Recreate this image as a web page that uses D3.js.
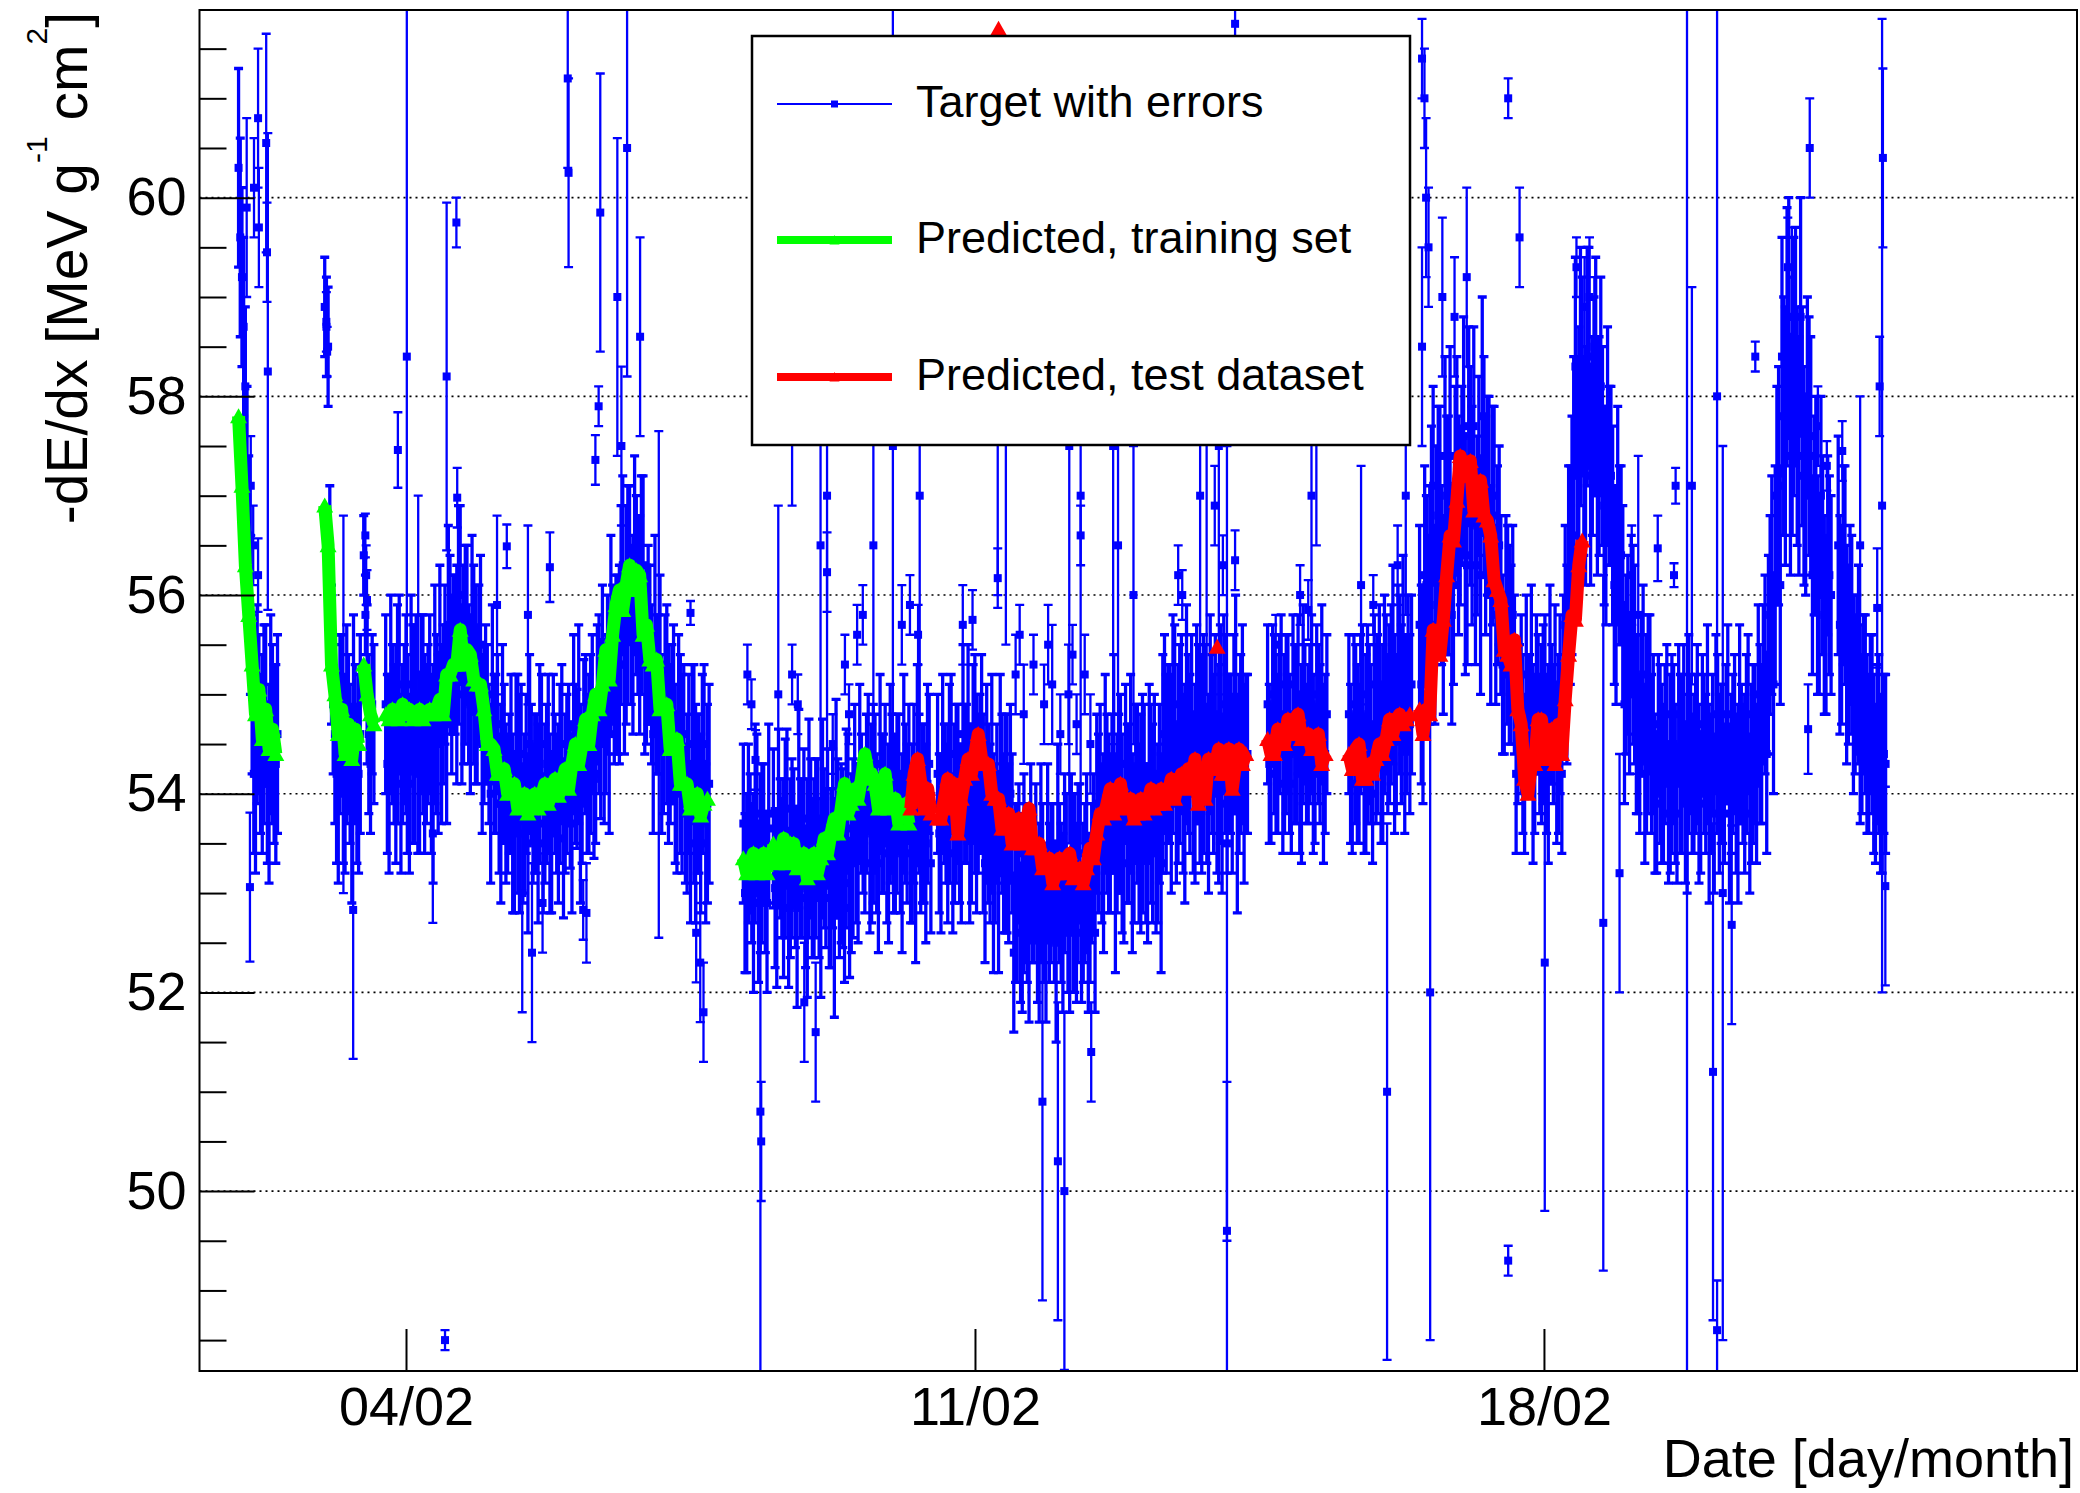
<!DOCTYPE html>
<html>
<head>
<meta charset="utf-8">
<script src="https://cdn.jsdelivr.net/npm/d3@7"></script>
<style>
html, body { margin: 0; padding: 0; background: #fff; }
#vis { width: 2080px; height: 1493px; }
text { font-family: "Liberation Sans", Arial, Helvetica, sans-serif; fill: #000; }
</style>
</head>
<body>
<div id="vis"></div>
<script>

////////////////////////////////////////
////////////// Data ////////////////////
////////////////////////////////////////

// times are day-of-February (4.5 = 04/02 12:00)
// each run is read hourly, plus a second reading half an hour later ("Half" arrays)
const targetA = [60.3, 59.2, 58.1, 56.6, 55.0, 54.2, 54.8, 54.4, 54.9, 54.1, 54.6, 54.3]
const targetAHalf = [59.6, 58.7, 57.3, 55.8, 54.2, 54.9, 54.4, 54.7, 54.1, 54.8, 54.4, 54.6]
const targetAErr = [1.0, .9, .8, .8, .8, 1.0, .8, 1.0, .8, 1.0, .9, 1.0]
const targetB = [58.9, 58.5, 55.4, 54.6, 54.0, 54.8, 54.2, 54.6, 53.9, 54.5, 54.2]
const targetBHalf = [58.7, 56.5, 54.9, 54.2, 54.7, 54.1, 54.7, 54.3, 54.8, 54.1, 54.6]
const targetBErr = [.5, .6, .7, .9, .9, .8, 1.0, .8, 1.0, .8, 1.0]
const targetC = [56.4, 55.1, 54.3, 54.7]
const targetCHalf = [55.8, 54.6, 54.9]
const targetCErr = [.4, .8, .7, .8]
const targetD = [54.9, 54.2, 54.7, 54.4, 55.1, 54.5, 54.8, 54.1, 54.6, 55.0, 54.3, 54.8, 54.5, 54.9, 54.2, 54.7,
    55.4, 54.9, 54.7, 55.5, 55.4, 55.2, 56.0, 55.3, 55.7, 54.9, 55.3, 54.9, 55.5,
    54.7, 54.8, 54.0, 54.4, 54.7, 53.9, 54.3,
    53.9, 54.3, 53.6, 54.1, 54.4, 53.8, 53.5, 54.2, 54.0, 53.7, 54.5, 53.9, 54.3, 53.6, 54.1, 53.8, 54.5,
    54.0, 54.4, 53.7, 54.3, 54.7, 54.0, 54.6, 54.3, 54.8,
    54.2, 54.9, 55.3, 54.8, 54.6, 55.4, 55.3,
    55.3, 56.3, 55.8, 56.3, 55.6, 56.1, 55.7, 56.3,
    55.4, 55.5, 54.6, 55.0, 55.3, 54.5, 54.9, 54.5,
    54.8, 54.0, 54.4, 54.6, 53.9, 53.5, 54.2, 54.0, 53.7, 54.5, 53.9]
const targetDHalf = [54.3, 55.0, 54.5, 54.8, 54.1, 54.7, 54.4, 55.1, 54.6, 54.2, 54.9, 54.4, 54.7, 54.3, 55.0, 54.5,
    54.6, 55.3, 55.7, 55.1, 55.4, 55.8, 55.0, 55.5, 55.1, 55.7, 55.1, 55.3, 54.5,
    54.9, 54.4, 55.0, 54.4, 53.9, 54.5, 53.9,
    54.1, 53.7, 54.4, 53.9, 53.6, 54.2, 54.5, 53.8, 54.0, 54.3, 53.5, 54.1, 53.7, 54.4, 53.9, 54.2, 53.55,
    54.2, 53.95, 54.7, 54.25, 53.9, 54.65, 54.2, 54.5, 54.15,
    55.0, 54.65, 54.5, 55.2, 55.6, 55.0, 55.3,
    55.9, 55.3, 56.0, 55.7, 56.4, 55.9, 56.1, 55.3,
    55.6, 55.1, 55.6, 55.0, 54.5, 55.1, 54.5, 54.7,
    54.2, 54.8, 54.2, 53.8, 54.3, 54.5, 53.8, 54.0, 54.3, 53.5, 54.1]
const targetDErr = [.9, 1.0, .8, 1.1, .9, .8, 1.0, .9, 1.1, .8, .9, 1.0, .8, .9, 1.1, .9,
    .9, .8, 1.0, .9, .8, 1.1, .9, 1.0, .8, .9, 1.0, .8, .9,
    .8, .7, .9, .8, .7, 1.0, .8, .7, .9, .8, 1.1, .7, .8, .9, .7, .8, 1.0, .7, .8, .9, .8, .7, .9, .8,
    .8, .7, .9, .8, 1.0, .7, .8, .9, .8, .7, .9, .8, .8, 1.0, .7, .9,
    1.0, .9, 1.1, .8, 1.0, .9, 1.1, .9,
    .9, .8, 1.0, .8, .9, .7, 1.0, .8, .9, .8, 1.0, .7, .9, .8, 1.1, .8, .9, .8, 1.0]
const targetE = [53.7, 53.1, 53.5, 53.0, 53.8, 53.3, 53.6, 52.9]
const targetEHalf = [53.0, 53.6, 53.2, 53.7, 52.9, 53.4, 53.1, 53.8]
const targetEErr = [.8, .9, .7, 1.0, .8, .9, .7, .9]
const targetE2 = [53.65, 52.95, 53.45, 53.15, 53.85, 53.25, 53.55, 52.85, 53.35, 53.75, 53.05, 53.55, 53.25, 53.65, 52.95, 53.45, 53.75, 53.15, 52.85, 53.55, 53.4, 53.1, 53.9, 53.3,
    54.1, 53.4, 53.9, 53.6, 54.3, 53.7, 54.0, 53.3, 53.8, 54.2, 53.5, 54.0, 53.7, 54.1, 53.4, 53.9, 54.2, 53.6, 53.3, 54.0, 53.8, 53.5, 54.3]
const targetE2Half = [53.05, 53.75, 53.25, 53.55, 52.85, 53.45, 53.15, 53.85, 53.35, 52.95, 53.65, 53.15, 53.45, 53.05, 53.75, 53.25, 52.95, 53.55, 53.85, 53.15, 53.35, 53.65, 52.85, 53.45,
    53.5, 54.2, 53.7, 54.0, 53.3, 53.9, 53.6, 54.3, 53.8, 53.4, 54.1, 53.6, 53.9, 53.5, 54.2, 53.7, 53.4, 54.0, 54.3, 53.6, 53.8, 54.1, 53.3]
const targetE2Err = [.8, .9, .7, 1.0, .8, .9, .7, 1.0, .8, .7, 1.1, .8, .9, .7, 1.0, .8, .7, .9, 1.1, .8, .9, 1.0, .7, .9,
    .8, .9, .7, .8, .7, 1.0, .8, .9, .8, .7, 1.0, .8, .9, .7, 1.0, .8, .7, .9, 1.0, .8, .9, 1.0, .7]
const targetF = [54.2, 53.5, 54.0, 53.7, 54.4, 53.8, 54.1,
    53.6, 54.1, 54.5, 53.8, 54.3, 54.0, 54.4,
    53.3, 53.8, 54.1, 53.5, 53.2, 53.9, 53.7, 53.4,
    53.6, 53.0, 53.4, 52.8, 53.1, 52.6, 53.0, 53.3, 52.7, 53.2, 52.6, 52.9, 53.2, 52.5, 53.1, 52.7, 53.3, 52.6, 53.0, 52.8, 53.4, 52.9, 53.3, 52.8, 53.4,
    53.9, 54.1, 53.4, 53.9, 53.6, 54.3, 53.7, 54.0, 53.3, 53.8, 54.2, 53.5, 54.0, 53.7, 54.1, 53.4, 53.9, 54.2, 53.6, 53.3,
    54.6, 54.4, 54.1, 54.9, 54.3, 54.7, 54.0, 54.5, 54.8, 54.1, 54.6, 54.3, 54.7, 54.0, 54.5, 54.8, 54.2, 53.9, 54.6, 54.4, 54.1, 54.9, 54.3, 54.7, 54.4]
const targetFHalf = [53.6, 54.3, 53.8, 54.1, 53.4, 54.0, 53.7,
    54.6, 54.1, 53.7, 54.4, 53.9, 54.2, 53.8,
    54.1, 53.6, 53.3, 53.9, 54.2, 53.5, 53.7, 54.0,
    52.4, 53.0, 52.6, 53.2, 52.9, 53.4, 53.0, 52.7, 53.3, 52.8, 53.4, 53.1, 52.8, 53.5, 52.9, 53.3, 52.7, 53.4, 53.0, 53.2, 52.6, 53.1, 52.7, 53.2, 52.6,
    53.7, 53.5, 54.2, 53.7, 54.0, 53.3, 53.9, 53.6, 54.3, 53.8, 53.4, 54.1, 53.6, 53.9, 53.5, 54.2, 53.7, 53.4, 54.0, 54.3,
    54.2, 54.4, 54.7, 53.9, 54.5, 54.1, 54.8, 54.3, 54.0, 54.7, 54.2, 54.5, 54.1, 54.8, 54.3, 54.0, 54.6, 54.9, 54.2, 54.4, 54.7, 53.9, 54.5, 54.1, 54.4]
const targetFErr = [.8, .9, .7, 1.0, .8, .9, .8,
    .9, .8, 1.0, .9, 1.1, .8, 1.0,
    1.0, .9, 1.1, .8, 1.0, .9, 1.1, .9,
    .8, .9, .7, 1.0, .8, .9, .7, .8, 1.0, .7, .9, .8, .7, 1.0, .8, .9, .7, .8, 1.0, .9, .7, .8, .9, .7, .8,
    .9, .8, 1.0, .9, .8, 1.1, .9, 1.0, .8, .9, 1.0, .8, .9, 1.1, .8, .9, 1.0, .8, .9, 1.1,
    1.0, .9, 1.1, .8, 1.0, .9, 1.1, .9, .8, 1.0, .9, 1.1, .8, 1.0, .9, .8, 1.1, .9, 1.0, .8, .9, 1.1, .9, 1.0, .8]
const targetG = [54.9, 54.2, 54.7, 54.4, 55.1, 54.5, 54.8, 54.1, 54.6, 55.0, 54.3, 54.8, 54.5, 54.9, 54.2, 54.7, 55.0, 54.4]
const targetGHalf = [54.3, 55.0, 54.5, 54.8, 54.1, 54.7, 54.4, 55.1, 54.6, 54.2, 54.9, 54.4, 54.7, 54.3, 55.0, 54.5, 54.2, 54.8]
const targetGErr = [.8, .7, .9, .8, .7, .9, .8, .7, .9, .8, 1.0, .7, .8, .9, .7, .8, .9, .8]
const targetH = [54.8, 54.1, 54.6, 54.3, 55.0, 54.4, 54.7, 54.0, 54.6, 55.1, 54.5, 55.0, 54.8, 55.3, 54.6, 55.1, 55.4, 54.8, 54.7]
const targetHHalf = [54.3, 54.9, 54.4, 54.8, 54.1, 54.7, 54.5, 55.1, 54.7, 54.3, 55.0, 54.6, 55.0, 54.6, 55.3, 54.8, 54.6, 55.2, 55.1]
const targetHErr = [.8, .7, .9, .8, .7, 1.0, .8, .7, .9, .8, 1.0, .8, .9, 1.0, .8, .9, 1.0, .8, .9]
const targetI = [55.7, 55.0, 56.1, 55.9, 57.1,
    56.4, 57.0, 55.8, 56.6, 57.4, 56.1,
    57.3, 56.8, 57.6, 56.3, 57.2, 57.7, 56.7, 56.2, 57.3, 57.0,
    56.0, 57.0, 56.3,
    55.9, 55.2, 55.7, 55.4,
    55.2, 54.6, 54.9, 54.2, 54.7, 55.1, 54.4, 54.9, 54.6, 55.0, 54.3, 54.8, 55.1, 54.5, 54.2,
    55.7, 56.2, 56.6,
    58.3, 57.4, 58.2, 57.3, 58.4,
    57.6, 58.2, 57.5,
    57.5, 56.8, 57.2,
    56.7, 56.0, 56.4,
    55.9, 55.3, 55.0, 55.5,
    54.7, 54.4, 55.2, 54.6, 55.0,
    54.6, 53.9, 54.4, 54.1, 54.8, 54.2, 54.5, 53.8, 54.3, 54.7, 54.0, 54.5, 54.2, 54.6, 53.9, 54.4,
    54.7, 54.1, 53.8, 54.5, 54.3, 54.0, 54.8, 54.2, 54.6, 53.9, 54.4, 54.1, 54.8, 54.2, 54.5,
    55.0, 54.5, 55.2,
    55.4, 56.1,
    56.2, 57.1,
    58.4, 57.6, 58.8, 57.9, 58.5, 57.4,
    57.8, 57.0, 57.6,
    56.2, 56.9, 56.0,
    56.4, 55.7, 56.2]
const targetIHalf = [55.1, 56.2, 55.7, 56.5, 55.7,
    56.8, 56.2, 57.4, 56.6, 55.8, 57.1,
    56.7, 57.2, 56.4, 57.7, 56.8, 56.3, 57.3, 57.8, 56.7, 57.0,
    56.8, 55.8, 56.5,
    55.3, 56.0, 55.5, 55.8,
    54.2, 54.8, 54.5, 55.2, 54.7, 54.3, 55.0, 54.5, 54.8, 54.4, 55.1, 54.6, 54.3, 54.9, 55.2,
    55.3, 56.2, 57.2,
    57.3, 58.2, 57.4, 58.3, 57.2,
    58.0, 57.4, 58.1,
    56.9, 57.6, 57.2,
    56.1, 56.8, 56.4,
    54.9, 55.5, 55.8, 55.3,
    54.7, 55.0, 54.2, 54.8, 54.4,
    54.0, 54.7, 54.2, 54.5, 53.8, 54.4, 54.1, 54.8, 54.3, 53.9, 54.6, 54.1, 54.4, 54.0, 54.7, 54.2,
    53.9, 54.5, 54.8, 54.1, 54.3, 54.6, 53.8, 54.4, 54.0, 54.7, 54.2, 54.5, 53.8, 54.4, 54.1,
    54.6, 55.1, 54.4,
    55.8, 55.1,
    57.0, 56.1,
    57.8, 58.6, 57.4, 58.3, 57.7, 58.8,
    57.2, 58.0, 57.4,
    56.8, 56.1, 57.0,
    55.8, 56.5, 56.0]
const targetIErr = [1.0, 1.1, .9, 1.2, 1.0, 1.1, .9, 1.0, 1.2, 1.1, 1.0, 1.1, .9, 1.2, 1.0, 1.1, 1.0, .9, 1.2, 1.1, 1.0, 1.1, .9, 1.0, .9, .8, 1.0, .9,
    .8, .7, .9, .8, .7, 1.0, .8, .7, .9, .8, 1.0, .7, .8, .9, .8,
    1.0, 1.1, 1.2, 1.1, 1.3, 1.0, 1.2, 1.1, 1.0, 1.2, 1.1, 1.0, 1.1, .9, 1.0, 1.1, .9, 1.0, .9, .8, 1.0, .9, .8, .9, 1.0, .8,
    .8, .7, .9, .8, .7, 1.0, .8, .7, .9, .8, 1.0, .7, .8, .9, .7, .8, 1.0, .7, .8, .9, .8, .7, .9, .8, .8, 1.0, .7, .9, .8, .9, .8,
    .9, .8, 1.0, 1.0, 1.1, 1.1, 1.2, 1.2, 1.3, 1.2, 1.3, 1.2, 1.2, 1.1, 1.0, 1.2, 1.0, 1.1, 1.0, 1.0, .9, 1.0]
const targetJ = [56.5, 55.7, 56.2, 55.4, 55.6, 55.0, 55.3, 54.6, 54.9, 54.4, 54.7, 54.1, 54.5, 54.0, 54.3]
const targetJHalf = [55.7, 56.3, 55.4, 55.8, 55.0, 55.2, 54.7, 55.0, 54.5, 54.8, 54.3, 54.5, 54.1, 54.4]
const targetJErr = [1.1, 1.0, 1.1, .9, 1.0, .8, 1.0, .8, .9, .8, .9, .8, .9, .8, .9]

// isolated target points: [day, value, error]
const targetSparse = [
    [2.04, 59.9, 0.9], [2.08, 53.06, 0.75], [2.13, 60.1, 0.5], [2.18, 60.8, 0.7], [2.18, 56.2, 0.37], [2.19, 59.7, 0.6],
    [2.28, 60.55, 1.1], [2.29, 59.45, 0.5], [2.3, 58.25, 2.4], [2.09, 57.1, 0.5], [2.12, 56.5, 0.4],
    [3.02, 58.75, 0.3], [3.03, 58.45, 0.25], [3.09, 55.6, 0.4], [3.23, 54.9, 1.9], [3.35, 52.83, 1.5],
    [3.5, 56.6, 0.22], [3.51, 56.2, 0.3], [3.52, 55.95, 0.3],
    [3.9, 57.46, 0.38], [4.01, 58.4, 5.0], [4.15, 55.2, 1.8], [4.33, 53.6, 0.9], [4.48, 48.5, 0.1], [4.5, 58.2, 1.75],
    [4.62, 59.75, 0.25], [4.63, 56.98, 0.3], [5.12, 55.9, 0.9], [5.24, 56.49, 0.22], [5.43, 53.0, 1.2], [5.5, 55.8, 0.9],
    [5.55, 52.4, 0.9], [5.68, 52.9, 0.5], [5.77, 56.28, 0.35], [5.99, 61.2, 0.9], [6.0, 60.25, 0.95], [6.18, 52.83, 0.3],
    [6.22, 52.8, 0.5], [6.33, 57.36, 0.25], [6.37, 57.9, 0.2], [6.39, 59.85, 1.4], [6.6, 59.0, 1.6], [6.65, 57.5, 0.8],
    [6.72, 60.5, 2.3], [6.88, 58.6, 1.0], [7.11, 55.1, 2.55], [7.5, 55.82, 0.12], [7.57, 52.6, 0.5], [7.62, 52.3, 0.6], [7.66, 51.8, 0.5],
    [8.2, 55.2, 0.3], [8.25, 54.9, 0.25], [8.3, 54.34, 0.3], [8.36, 50.8, 2.9], [8.37, 50.5, 0.6], [8.58, 55.0, 1.9],
    [8.75, 58.5, 1.6], [8.75, 55.2, 0.3], [8.82, 54.9, 0.3], [8.9, 51.9, 0.6], [9.04, 51.6, 0.7], [9.1, 56.5, 3.0],
    [9.18, 57.0, 3.5], [9.18, 56.23, 0.4], [9.25, 54.5, 0.3], [9.4, 55.3, 0.3], [9.45, 54.8, 0.3], [9.55, 55.6, 0.3],
    [9.62, 55.8, 0.3], [9.75, 56.5, 3.0], [9.99, 57.5, 4.5], [10.1, 55.7, 0.4], [10.2, 55.9, 0.3], [10.3, 55.6, 0.3], [10.32, 57.0, 3.5],
    [10.85, 55.7, 0.4], [10.97, 55.75, 0.3], [11.28, 56.17, 0.3], [11.28, 58.0, 2.0], [11.38, 58.5, 3.0], [11.5, 55.2, 0.4],
    [11.55, 55.6, 0.3], [11.6, 54.8, 0.5], [11.72, 55.3, 0.3], [11.83, 50.9, 2.0], [11.85, 54.9, 0.4], [11.9, 55.5, 0.4],
    [11.95, 55.1, 0.6], [12.02, 50.3, 1.6], [12.05, 54.6, 0.4], [12.1, 50.0, 1.8], [12.15, 55.0, 0.5], [12.16, 57.5, 4.0],
    [12.2, 55.4, 0.3], [12.25, 54.7, 0.3], [12.3, 56.6, 0.3], [12.3, 57.0, 3.5], [12.35, 55.2, 0.4], [12.42, 54.5, 0.5],
    [12.43, 51.4, 0.5], [12.7, 57.5, 3.0], [12.76, 56.5, 2.5], [12.95, 56.0, 1.5], [13.5, 56.2, 0.3], [13.55, 56.0, 0.25],
    [13.77, 57.0, 2.0], [13.85, 58.0, 3.0], [13.95, 56.9, 0.4], [14.0, 57.5, 2.5], [14.05, 56.3, 0.3], [14.1, 53.5, 4.0],
    [14.1, 49.6, 1.5], [14.2, 61.75, 0.2], [14.2, 56.35, 0.3],
    [14.7, 55.5, 0.3], [15.0, 56.0, 0.3], [15.1, 55.85, 0.3], [15.14, 57.0, 1.5], [15.2, 58.5, 2.0], [15.75, 56.1, 1.2],
    [15.9, 55.9, 0.3], [16.07, 51.0, 2.7], [16.2, 56.3, 0.4], [16.3, 57.0, 1.2],
    [16.5, 61.4, 0.4], [16.53, 61.0, 0.5], [16.55, 60.0, 0.8], [16.58, 59.5, 0.6], [16.5, 58.5, 1.0], [16.6, 52.0, 3.5],
    [16.75, 59.0, 0.8], [16.9, 58.8, 0.6], [17.05, 59.2, 0.9], [17.56, 61.0, 0.2], [17.56, 49.3, 0.15], [17.7, 59.6, 0.5],
    [18.01, 52.3, 2.5], [18.4, 59.3, 0.3], [18.73, 52.7, 3.5], [18.93, 53.2, 1.2], [19.08, 56.2, 0.5], [19.16, 55.8, 1.6],
    [19.4, 56.47, 0.33], [19.6, 56.2, 0.12], [19.62, 57.1, 0.18], [19.76, 54.0, 8.0], [19.82, 57.1, 2.0], [20.08, 51.2, 2.5],
    [20.13, 48.6, 0.5], [20.13, 58.0, 4.0], [20.2, 53.0, 4.5], [20.31, 52.68, 1.0], [20.6, 58.4, 0.15], [21.0, 59.3, 0.5],
    [21.05, 58.8, 0.9], [21.25, 54.65, 0.45], [21.27, 60.5, 0.5], [21.37, 57.7, 0.4], [21.48, 57.3, 0.25], [21.67, 57.45, 0.3],
    [21.89, 56.5, 1.5], [22.1, 55.87, 0.6], [22.13, 58.1, 0.5], [22.17, 60.4, 0.9], [22.16, 56.9, 4.9], [22.2, 53.07, 1.0],
    [18.5, 58.9, 0.5], [18.56, 59.0, 0.6], [18.62, 58.5, 0.7]
]

// predicted, training set (hourly)
const trainA = [57.8, 57.1, 56.3, 55.8, 55.3, 54.8, 55.05, 54.55, 54.85, 54.45, 54.65, 54.4]
const trainB = [56.9, 56.5, 55.3, 55.0, 54.6, 54.85, 54.4, 54.7, 54.35, 54.65, 54.5]
const trainC = [55.3, 55.0, 54.8, 54.7]
const trainD = [54.8, 54.75, 54.85, 54.8, 54.75, 54.9, 54.8, 54.85, 54.75, 54.8, 54.85, 54.75, 54.8, 54.85, 54.8, 54.85,
    54.95, 54.8, 55.2, 55.2, 55.3, 55.3, 55.65, 55.3, 55.45, 55.4, 55.15, 55.1, 55.1,
    54.85, 54.5, 54.5, 54.45, 54.2, 54.2, 54.25, 54.0, 54.05, 54.1, 53.85, 53.95, 54.0, 53.8, 53.9, 54.0, 53.85, 53.98, 54.1, 53.9, 54.03, 54.15, 53.98, 54.1,
    54.25, 54.05, 54.3, 54.5, 54.3, 54.5, 54.75, 54.5, 54.8, 55.0, 54.85, 55.1, 55.45, 55.15, 55.6, 55.9,
    56.05, 55.85, 56.1, 56.3, 56.05, 56.25, 56.2, 55.6,
    55.7, 55.35, 55.3, 55.35, 54.85, 54.9, 54.9, 54.45, 54.5, 54.55, 54.1, 54.1, 54.1, 53.85, 53.9, 54.0, 53.78, 53.9, 53.95]
const trainE = [53.35, 53.2, 53.3, 53.4, 53.2, 53.3, 53.4, 53.2]
const trainE2 = [53.5, 53.3, 53.4, 53.55, 53.3, 53.5, 53.5, 53.25, 53.35, 53.4, 53.15, 53.3, 53.4, 53.2, 53.35, 53.55, 53.4, 53.6, 53.75, 53.6,
    53.85, 54.1, 53.8, 53.9, 54.05, 53.95, 54.15, 54.4, 54.2, 54.2, 54.1, 53.85, 54.0, 54.2, 53.85, 53.9, 53.95, 53.7, 53.85, 53.9, 53.7]

// predicted, test dataset (hourly)
const testE2 = [53.85, 54.2, 54.35, 54.1, 53.85, 54.05, 53.8]
const testF = [53.75, 53.75, 53.95, 54.15, 53.85, 54.1, 53.6, 53.95, 54.15, 54.35,
    54.2, 54.4, 54.6, 54.35, 54.3, 54.3, 54.0, 53.95, 53.95, 53.65,
    53.65, 53.8, 53.5, 53.55, 53.75, 53.5, 53.7, 53.85, 53.45, 53.45,
    53.5, 53.25, 53.3, 53.35, 53.1, 53.2, 53.35, 53.2, 53.35, 53.4,
    53.15, 53.2, 53.25, 53.1, 53.25, 53.45, 53.35, 53.6, 53.8, 53.75,
    53.9, 54.05, 53.8, 53.95, 54.1, 53.85, 53.9, 53.95, 53.75, 53.8,
    53.95, 53.8, 53.9, 54.05, 53.85, 53.9, 54.05, 53.9, 54.0, 54.15,
    53.95, 54.1, 54.2, 54.05, 54.25, 54.1, 54.35, 53.9, 54.25, 53.95,
    54.35, 54.25, 54.3, 54.45, 54.2, 54.2, 54.45, 54.05, 54.3, 54.45,
    54.3, 54.4]
const testG = [54.55, 54.4, 54.4, 54.65, 54.5, 54.5, 54.75, 54.6, 54.75, 54.8, 54.55, 54.6, 54.6, 54.45, 54.45, 54.6, 54.3, 54.4]
const testH = [54.4, 54.25, 54.45, 54.5, 54.15, 54.15, 54.3, 54.2, 54.35, 54.5, 54.4, 54.55, 54.75, 54.6, 54.75, 54.8, 54.7, 54.75, 54.8]
const testI = [54.85, 54.6, 54.85, 54.8, 55.65, 55.5, 55.4, 55.75, 56.2, 56.6,
    56.55, 56.95, 57.4, 57.2, 57.2, 57.35, 56.85, 56.9, 57.15, 56.8,
    56.75, 56.6, 56.15, 56.05, 55.95, 55.45, 55.4, 55.3, 55.55, 54.85,
    54.7, 54.15, 54.0, 54.3, 54.3, 54.75, 54.75, 54.35, 54.6, 54.65,
    54.3, 54.7, 54.4, 54.95, 55.4, 55.8, 55.75, 56.3, 56.55]
const testSparse = [[11.29, 61.7], [13.98, 55.48]]

const yTickValues = [50, 52, 54, 56, 58, 60]
const xTickDays = [4, 11, 18]
const legendLabels = ['Target with errors', 'Predicted, training set', 'Predicted, test dataset']


////////////////////////////////////////
////////////// Defaults ////////////////
////////////////////////////////////////

const options = {
    selector: '#vis',
    width: 2080,
    height: 1493,
    margin: { top: 10, right: 3, bottom: 122, left: 199.5 },
    colors: { target: '#0000ff', train: '#00ff00', test: '#ff0000' }
}

const HALF = 1 / 48

const targetRuns = [
    { start: 1.94, v: targetA, e: targetAErr }, { start: 1.94 + HALF, v: targetAHalf, e: targetAErr },
    { start: 3.00, v: targetB, e: targetBErr }, { start: 3.00 + HALF, v: targetBHalf, e: targetBErr },
    { start: 3.48, v: targetC, e: targetCErr }, { start: 3.48 + HALF, v: targetCHalf, e: targetCErr },
    { start: 3.75, v: targetD, e: targetDErr }, { start: 3.75 + HALF, v: targetDHalf, e: targetDErr },
    { start: 8.15, v: targetE, e: targetEErr }, { start: 8.15 + HALF, v: targetEHalf, e: targetEErr },
    { start: 8.52, v: targetE2, e: targetE2Err }, { start: 8.52 + HALF, v: targetE2Half, e: targetE2Err },
    { start: 10.54, v: targetF, e: targetFErr }, { start: 10.54 + HALF, v: targetFHalf, e: targetFErr },
    { start: 14.60, v: targetG, e: targetGErr }, { start: 14.60 + HALF, v: targetGHalf, e: targetGErr },
    { start: 15.60, v: targetH, e: targetHErr }, { start: 15.60 + HALF, v: targetHHalf, e: targetHErr },
    { start: 16.47, v: targetI, e: targetIErr }, { start: 16.47 + HALF, v: targetIHalf, e: targetIErr },
    { start: 21.62, v: targetJ, e: targetJErr }, { start: 21.62 + HALF, v: targetJHalf, e: targetJErr }
]
const trainRuns = [
    { start: 1.94, v: trainA }, { start: 3.00, v: trainB }, { start: 3.48, v: trainC },
    { start: 3.75, v: trainD }, { start: 8.15, v: trainE }, { start: 8.52, v: trainE2 }
]
const testRuns = [
    { start: 10.21, v: testE2 }, { start: 10.54, v: testF }, { start: 14.60, v: testG },
    { start: 15.60, v: testH }, { start: 16.47, v: testI }
]

const baseDate = Date.UTC(2018, 1, 0)
const toDate = d => new Date(baseDate + d * 864e5)
const STEP = 1 / 24

const runPoints = r => r.v.map((v, i) => ({
    t: toDate(r.start + i * STEP), v: v, e: r.e ? (r.e[i] ?? 0.8) : 0, dense: true
}))

const targetPoints = targetRuns.flatMap(runPoints)
    .concat(targetSparse.map(d => ({ t: toDate(d[0]), v: d[1], e: d[2], dense: false })))
const trainSeries = trainRuns.map(runPoints)
const testSeries = testRuns.map(runPoints)
const trainPoints = trainSeries.flat()
const testPoints = testSeries.flat()
    .concat(testSparse.map(d => ({ t: toDate(d[0]), v: d[1], e: 0 })))


////////////////////////////////////////
////////////// SVG Setup ///////////////
////////////////////////////////////////

const width = options.width - options.margin.left - options.margin.right
const height = options.height - options.margin.top - options.margin.bottom

const root = d3.select(options.selector).append('svg')
    .attr('width', options.width)
    .attr('height', options.height)
    .attr('viewBox', `0 0 ${options.width} ${options.height}`)

root.append('rect').attr('width', options.width).attr('height', options.height).attr('fill', '#fff')

const svg = root.append('g')
    .attr('transform', `translate(${options.margin.left}, ${options.margin.top})`)

svg.append('clipPath').attr('id', 'frame-clip')
    .append('rect').attr('width', width).attr('height', height)


////////////////////////////////////////
////////////// Scales //////////////////
////////////////////////////////////////

const xScale = d3.scaleUtc()
    .domain([toDate(1.4594), toDate(24.558)])
    .range([0, width])

const yScale = d3.scaleLinear()
    .domain([48.189, 61.889])
    .range([height, 0])


////////////////////////////////////////
////////////// Grid ////////////////////
////////////////////////////////////////

svg.append('g').selectAll('line')
    .data(yTickValues)
    .join('line')
    .attr('x1', 0).attr('x2', width)
    .attr('y1', d => yScale(d)).attr('y2', d => yScale(d))
    .attr('stroke', '#000')
    .attr('stroke-width', 1.6)
    .attr('stroke-dasharray', '2,4')


////////////////////////////////////////
////////////// Data marks //////////////
////////////////////////////////////////

const plot = svg.append('g').attr('clip-path', 'url(#frame-clip)')

plot.append('g')
    .selectAll('path')
    .data(targetPoints)
    .join('path')
    .attr('d', d => {
        const cap = 4.5
        const px = xScale(d.t), y1 = yScale(d.v + d.e), y2 = yScale(d.v - d.e)
        return `M${px},${y1}V${y2}M${px - cap},${y1}H${px + cap}M${px - cap},${y2}H${px + cap}`
    })
    .attr('fill', 'none')
    .attr('stroke', options.colors.target)
    .attr('stroke-width', d => d.dense ? 3.3 : 2.3)

plot.append('g')
    .selectAll('rect')
    .data(targetPoints)
    .join('rect')
    .attr('x', d => xScale(d.t) - 4)
    .attr('y', d => yScale(d.v) - 4)
    .attr('width', 8)
    .attr('height', 8)
    .attr('fill', options.colors.target)

const line = d3.line()
    .x(d => xScale(d.t))
    .y(d => yScale(d.v))

const triangle = 'M0,-8L8.5,7L-8.5,7Z'

function drawPredicted(series, points, color) {
    plot.append('g')
        .selectAll('path')
        .data(series)
        .join('path')
        .attr('d', line)
        .attr('fill', 'none')
        .attr('stroke', color)
        .attr('stroke-width', 13)
        .attr('stroke-linejoin', 'round')

    plot.append('g')
        .selectAll('path')
        .data(points)
        .join('path')
        .attr('d', triangle)
        .attr('transform', d => `translate(${xScale(d.t)},${yScale(d.v)})`)
        .attr('fill', color)
}

drawPredicted(trainSeries, trainPoints, options.colors.train)
drawPredicted(testSeries, testPoints, options.colors.test)


////////////////////////////////////////
////////////// Axes ////////////////////
////////////////////////////////////////

const minorTicks = d3.range(48.5, 61.9, 0.5).filter(d => !yTickValues.includes(d))

svg.append('g')
    .call(d3.axisLeft(yScale).tickValues(minorTicks).tickSize(-27).tickFormat(''))
    .call(g => g.select('.domain').remove())
    .call(g => g.selectAll('line').attr('stroke', '#000').attr('stroke-width', 2))

svg.append('g')
    .call(d3.axisLeft(yScale).tickValues(yTickValues).tickSize(-55).tickPadding(13).tickFormat(d3.format('d')))
    .call(g => g.select('.domain').remove())
    .call(g => g.selectAll('line').attr('stroke', '#000').attr('stroke-width', 2))
    .call(g => g.selectAll('text')
        .attr('font-size', 54)
        .attr('font-family', '"Liberation Sans", Arial, sans-serif')
        .attr('fill', '#000'))

svg.append('g')
    .attr('transform', `translate(0, ${height})`)
    .call(d3.axisBottom(xScale).tickValues(xTickDays.map(toDate)).tickSize(-42).tickPadding(16)
        .tickFormat(d3.utcFormat('%d/%m')))
    .call(g => g.select('.domain').remove())
    .call(g => g.selectAll('line').attr('stroke', '#000').attr('stroke-width', 2))
    .call(g => g.selectAll('text')
        .attr('font-size', 54)
        .attr('font-family', '"Liberation Sans", Arial, sans-serif')
        .attr('fill', '#000'))

// frame
svg.append('rect')
    .attr('width', width)
    .attr('height', height)
    .attr('fill', 'none')
    .attr('stroke', '#000')
    .attr('stroke-width', 2)

// axis titles
root.append('text')
    .attr('x', 2074)
    .attr('y', 1477)
    .attr('text-anchor', 'end')
    .attr('font-size', 54)
    .text('Date [day/month]')

const yTitle = root.append('text')
    .attr('transform', 'translate(87, 12) rotate(-90)')
    .attr('text-anchor', 'end')
    .attr('font-size', 57)
yTitle.append('tspan').text('-dE/dx [MeV g')
yTitle.append('tspan').attr('font-size', 30).attr('dy', -40).text('-1')
yTitle.append('tspan').attr('dy', 40).text(' cm')
yTitle.append('tspan').attr('font-size', 30).attr('dy', -40).text('2')
yTitle.append('tspan').attr('dy', 40).text(']')


////////////////////////////////////////
////////////// Legend //////////////////
////////////////////////////////////////

const legend = root.append('g')

legend.append('rect')
    .attr('x', 752).attr('y', 36)
    .attr('width', 658).attr('height', 409)
    .attr('fill', '#fff')
    .attr('stroke', '#000')
    .attr('stroke-width', 2.5)

const legendRows = [
    { label: legendLabels[0], color: options.colors.target, lw: 2, marker: 'square', y: 104 },
    { label: legendLabels[1], color: options.colors.train, lw: 8, marker: 'triangle', y: 240 },
    { label: legendLabels[2], color: options.colors.test, lw: 8, marker: 'triangle', y: 377 }
]

const rowG = legend.selectAll('.legend-row')
    .data(legendRows)
    .join('g')
    .classed('legend-row', true)
    .attr('transform', d => `translate(0, ${d.y})`)

rowG.append('line')
    .attr('x1', 777).attr('x2', 892)
    .attr('stroke', d => d.color)
    .attr('stroke-width', d => d.lw)

rowG.append('path')
    .attr('d', d => d.marker === 'square' ? 'M-3.5,-3.5h7v7h-7Z' : 'M0,-5L5,4.5L-5,4.5Z')
    .attr('transform', 'translate(834.5, 0)')
    .attr('fill', d => d.color)

rowG.append('text')
    .attr('x', 916)
    .attr('y', 13)
    .attr('font-size', 45)
    .text(d => d.label)

</script>
</body>
</html>
